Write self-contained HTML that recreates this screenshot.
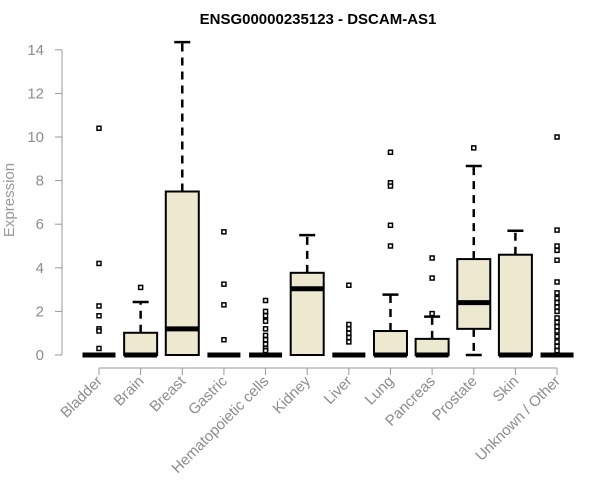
<!DOCTYPE html>
<html><head><meta charset="utf-8"><style>
body{margin:0;background:#fff}
svg{display:block;font-family:"Liberation Sans",Arial,sans-serif}
</style></head><body>
<svg id="chart" width="600" height="500">
<text x="318" y="24" text-anchor="middle" font-weight="bold" font-size="15">ENSG00000235123 - DSCAM-AS1</text>
<text transform="translate(14,200) rotate(-90)" text-anchor="middle" font-size="15" fill="#999">Expression</text>
<g id="yaxis"></g>
<g id="xaxis"></g>
<g id="boxes"></g>
</svg>
<script>
const categories=["Bladder","Brain","Breast","Gastric","Hematopoietic cells","Kidney","Liver","Lung","Pancreas","Prostate","Skin","Unknown / Other"];
const q1=[0,0,0,0,0,0,0,0,0,1.2,0,0];
const medians=[0,0,1.2,0,0,3.04,0,0,0,2.4,0,0];
const q3=[0,1.02,7.5,0,0,3.77,0,1.1,0.74,4.4,4.6,0];
const whiskerLow=[0,0,0,0,0,0,0,0,0,0,0,0];
const whiskerHigh=[0,2.43,14.35,0,0,5.5,0,2.77,1.76,8.67,5.7,0];
const outliers=[
 [10.4,4.2,2.25,1.8,1.2,1.1,0.3],
 [3.1],
 [],
 [5.65,3.25,2.3,0.7],
 [2.5,2.0,1.8,1.55,1.2,0.9,0.7,0.5,0.3,0.2],
 [],
 [3.2,1.4,1.2,1.0,0.8,0.6],
 [9.3,7.9,7.75,5.95,5.0],
 [4.45,3.53,1.9],
 [9.5],
 [],
 [10.0,5.73,5.0,4.8,4.35,3.35,2.85,2.6,2.4,2.2,2.0,1.7,1.5,1.3,1.1,0.85,0.6,0.4,0.2]
];
const yTicks=[0,2,4,6,8,10,12,14];
const NS="http://www.w3.org/2000/svg";
const y=v=>355-v*21.8;
const x=i=>99+i*41.64;
function mk(t,a,p){const e=document.createElementNS(NS,t);for(const k in a)e.setAttribute(k,a[k]);p.appendChild(e);return e;}
const ya=document.getElementById('yaxis');
let yl=mk('line',{x1:62,x2:62,y1:y(0),y2:y(14),stroke:'#999'},ya);


yTicks.forEach(t=>{
 const tk=mk('line',{x1:55,x2:62,y1:y(t),y2:y(t),stroke:'#999'},ya);
 
 
 const tx=mk('text',{x:44,y:y(t)+5,'text-anchor':'end','font-size':15,fill:'#8c8c8c'},ya);
 tx.textContent=t;
 
 
});
const xa=document.getElementById('xaxis');
let xl=mk('line',{x1:x(0),x2:x(11),y1:368,y2:368,stroke:'#999'},xa);


const bx=document.getElementById('boxes');
categories.forEach((c,i)=>{
 const cx=x(i);
 const tk=mk('line',{x1:cx,x2:cx,y1:368,y2:375,stroke:'#999'},xa);
 
 
 const tx=mk('text',{x:cx+4,y:382,'text-anchor':'end','font-size':15,fill:'#8c8c8c',transform:`rotate(-45 ${cx+4} 382)`},xa);
 tx.textContent=c;
 
 
 const g=mk('g',{},bx);
 
 
 if(whiskerHigh[i]>q3[i]){
  mk('line',{x1:cx,x2:cx,y1:y(q3[i]),y2:y(whiskerHigh[i]),stroke:'#000','stroke-width':2.5,'stroke-dasharray':'8,6'},g);
  mk('line',{x1:cx-8,x2:cx+8,y1:y(whiskerHigh[i]),y2:y(whiskerHigh[i]),stroke:'#000','stroke-width':2.5},g);
 }
 if(whiskerLow[i]<q1[i]){
  mk('line',{x1:cx,x2:cx,y1:y(q1[i]),y2:y(whiskerLow[i]),stroke:'#000','stroke-width':2.5,'stroke-dasharray':'8,6'},g);
  mk('line',{x1:cx-8,x2:cx+8,y1:y(whiskerLow[i]),y2:y(whiskerLow[i]),stroke:'#000','stroke-width':2.5},g);
 }
 if(q3[i]>q1[i]) mk('rect',{x:cx-16.5,y:y(q3[i]),width:33,height:y(q1[i])-y(q3[i]),fill:'#ede8d0',stroke:'#000','stroke-width':2},g);
 mk('line',{x1:cx-16.5,x2:cx+16.5,y1:y(medians[i]),y2:y(medians[i]),stroke:'#000','stroke-width':5},g);
 outliers[i].forEach(v=>{
  const o=mk('rect',{x:cx-2,y:y(v)-2,width:4,height:4,fill:'#fff',stroke:'#000','stroke-width':1.5},g);
  
  
 });
});
</script>
</body></html>
